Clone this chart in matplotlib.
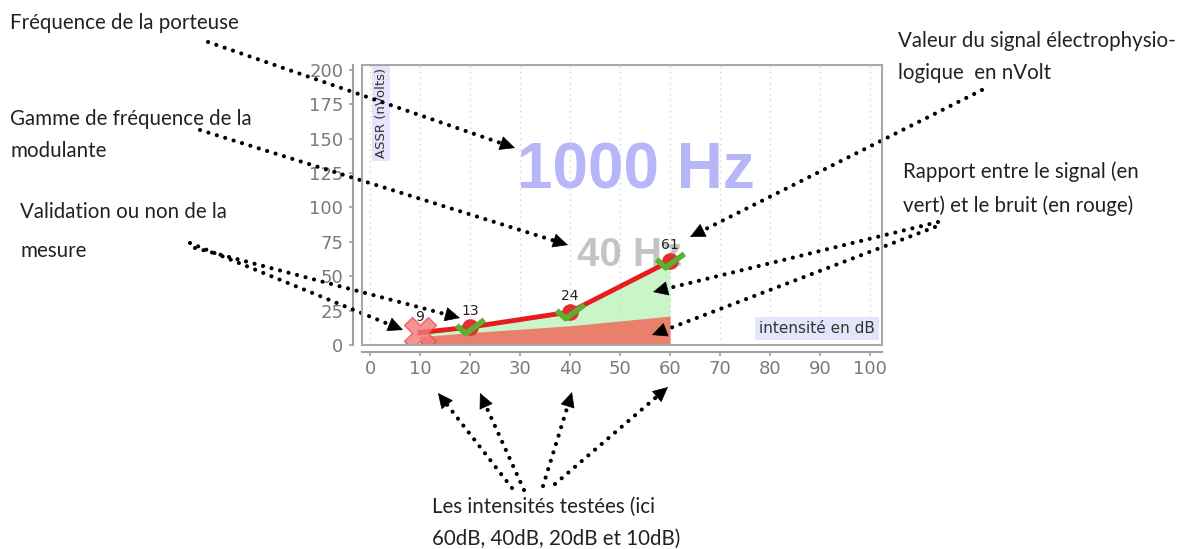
import matplotlib
matplotlib.use('Agg')
from matplotlib import pyplot as plt
from matplotlib.patches import Rectangle
from matplotlib.path import Path
import numpy as np

# measured values (dB, nVolt)
intensities = [10, 20, 40, 60]
signal = [9, 13, 24, 61]
noise = [6, 9, 14, 21]
valid = [False, True, True, True]
x_ticks = list(range(0, 101, 10))
y_ticks = list(range(0, 201, 25))

carrier_label = '1000 Hz'
modulation_label = '40 Hz'

W, H = 1191, 549


def fig_xy(px, py):
    # image pixel (top-left origin) -> figure fraction
    return (px / W, 1 - py / H)


fig = plt.figure(figsize=(W / 100, H / 100), dpi=100)
fig.patch.set_facecolor('white')

ax = fig.add_axes([362 / W, 1 - 345 / H, 520 / W, 280 / H])
ax.set_xlim(-1.6, 102.4)
ax.set_ylim(0, 203.6)

# plot frame
ax.add_patch(Rectangle((0, 0), 1, 1, transform=ax.transAxes, fill=False,
                       ec='#a8a8a8', lw=1.5, clip_on=False, zorder=6))
ax.spines['top'].set_visible(False)
ax.spines['right'].set_visible(False)
ax.spines['left'].set_position(('outward', 6.5))
ax.spines['bottom'].set_position(('outward', 5))
for s in ['left', 'bottom']:
    ax.spines[s].set_color('#a0a0a0')
    ax.spines[s].set_linewidth(1.5)

ax.set_xticks(x_ticks)
ax.set_yticks(y_ticks)
ax.tick_params(colors='#a0a0a0', labelcolor='#7a7a7a', labelsize=13,
               direction='out', length=3, width=1.2)
ax.tick_params(axis='x', pad=3)
ax.tick_params(axis='y', pad=4)
ax.grid(axis='x', linestyle=(0, (1, 3)), color='#d4d4d4', lw=1)

# signal / noise areas
ax.fill_between(intensities, signal, color='#c9f5c9', lw=0, zorder=1)
ax.fill_between(intensities, noise, color='#e8806c', lw=0, zorder=2)
ax.plot(intensities, signal, color='#e81c1c', lw=3.5, zorder=3)

# big labels
ax.text(0.527, 0.618, carrier_label, transform=ax.transAxes, ha='center', va='center',
        fontsize=46, fontweight='bold', family='Liberation Sans', color='#b6b6f8', zorder=0.5)
ax.text(0.515, 0.32, modulation_label, transform=ax.transAxes, ha='center', va='center',
        fontsize=29, fontweight='bold', family='Liberation Sans', color='#c4c4c4', zorder=0.5)

# validation markers
check = Path([(-1.0, 0.15), (-0.35, -0.45), (1.0, 0.55)],
             [Path.MOVETO, Path.LINETO, Path.LINETO])
for x, y, ok in zip(intensities, signal, valid):
    if ok:
        ax.plot(x, y, 'o', color='#e03030', ms=11, zorder=4)
        ax.plot(x, y, marker=check, ms=20, mfc='none', mec='#5cb030', mew=4,
                zorder=5)
    else:
        ax.plot(x, y, marker='X', ms=23, color='#f07878', mec='#e85050', alpha=0.8, zorder=4)
    ax.annotate(str(y), (x, y), xytext=(0, 11.5), textcoords='offset points',
                ha='center', va='center', fontsize=10, color='#222222', zorder=6)

ax.text(0.037, 0.99, 'ASSR (nVolts)', transform=ax.transAxes, rotation=90,
        ha='center', va='top', fontsize=9.5, color='#333333',
        bbox=dict(boxstyle='square,pad=0.2', fc='#e4e4fa', ec='none'))
ax.text(0.986, 0.06, 'intensit\u00e9 en dB', transform=ax.transAxes,
        ha='right', va='center', fontsize=11, color='#333333',
        bbox=dict(boxstyle='square,pad=0.25', fc='#e4e4fa', ec='none'))

# explanatory notes
notes = [
    (10, 29, 'Fréquence de la porteuse'),
    (10, 125, 'Gamme de fréquence de la'),
    (10, 157, 'modulante'),
    (20, 218, 'Validation ou non de la'),
    (20, 257, 'mesure'),
    (898, 47, 'Valeur du signal électrophysio-'),
    (898, 79, 'logique  en nVolt'),
    (903, 178, 'Rapport entre le signal (en'),
    (903, 212, 'vert) et le bruit (en rouge)'),
    (432, 513, 'Les intensités testées (ici'),
    (432, 545, '60dB, 40dB, 20dB et 10dB)'),
]
for px, py, s in notes:
    fig.text(*fig_xy(px, py), s, family='Lato', fontsize=14.8, color='#222222', va='baseline')

arrows = [
    ((208, 42), (515, 148)),
    ((200, 130), (568, 245)),
    ((190, 243), (403, 330)),
    ((195, 248), (460, 318)),
    ((982, 90), (690, 237)),
    ((938, 222), (653, 292)),
    ((935, 227), (652, 335)),
    ((512, 488), (438, 393)),
    ((524, 490), (480, 393)),
    ((543, 486), (572, 392)),
    ((555, 484), (668, 387)),
]
head_px = 14
for start, tip in arrows:
    d = np.subtract(tip, start)
    u = d / np.hypot(*d)
    back = np.array(tip) - u * head_px
    # dotted shaft
    ax.annotate('', xy=fig_xy(*(np.array(tip) - u * (head_px - 3))), xytext=fig_xy(*start),
                xycoords='figure fraction', textcoords='figure fraction',
                annotation_clip=False,
                arrowprops=dict(arrowstyle='-', color='black', lw=3.0,
                                linestyle=(0, (0.01, 2.1)), capstyle='round',
                                shrinkA=0, shrinkB=0))
    # solid head
    ax.annotate('', xy=fig_xy(*tip), xytext=fig_xy(*back),
                xycoords='figure fraction', textcoords='figure fraction',
                annotation_clip=False,
                arrowprops=dict(arrowstyle='-|>,head_length=1.0,head_width=0.48',
                                color='black', lw=0.5, shrinkA=0, shrinkB=0))

fig.savefig('out.png', dpi=100)
